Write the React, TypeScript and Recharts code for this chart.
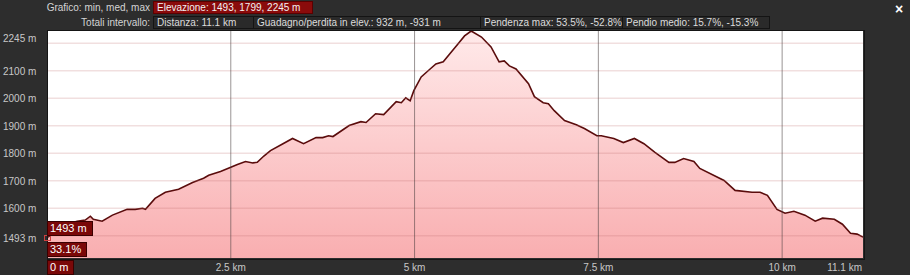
import React from "react";
import {
  AreaChart,
  Area,
  XAxis,
  YAxis,
  CartesianGrid,
  ReferenceLine,
} from "recharts";

const distKm = [
  0, 0.15, 0.3, 0.41, 0.52, 0.59, 0.63, 0.75, 0.89, 1.09, 1.2, 1.3, 1.34, 1.47, 1.61, 1.79, 1.98,
  2.13, 2.2, 2.36, 2.5, 2.59, 2.7, 2.8, 2.86, 2.95, 3.04, 3.21, 3.34, 3.49, 3.66, 3.75, 3.83, 3.89,
  4.11, 4.27, 4.34, 4.47, 4.58, 4.75, 4.82, 4.88, 4.94, 4.99, 5.09, 5.2, 5.29, 5.39, 5.48, 5.59,
  5.68, 5.77, 5.91, 6.04, 6.15, 6.22, 6.29, 6.38, 6.55, 6.63, 6.75, 6.82, 6.9, 7.04, 7.2, 7.31,
  7.48, 7.54, 7.71, 7.84, 7.99, 8.12, 8.27, 8.46, 8.54, 8.66, 8.8, 8.88, 9.21, 9.36, 9.59, 9.7,
  9.8, 9.93, 10.04, 10.16, 10.31, 10.45, 10.55, 10.71, 10.82, 10.93, 11.02, 11.1,
];

const elevM = [
  1493, 1518, 1545, 1553, 1557, 1571, 1560, 1553, 1575, 1596, 1596, 1600, 1596, 1636, 1658, 1669, 1694,
  1709, 1720, 1734, 1749, 1759, 1770, 1765, 1767, 1790, 1810, 1835, 1854, 1835, 1857, 1857, 1864, 1861,
  1901, 1915, 1912, 1944, 1941, 1988, 1984, 2002, 1991, 2028, 2078, 2104, 2125, 2133, 2162, 2198,
  2227, 2245, 2223, 2187, 2133, 2136, 2118, 2107, 2053, 2006, 1984, 1980, 1955, 1919, 1904, 1890,
  1864, 1864, 1854, 1839, 1854, 1835, 1803, 1767, 1767, 1781, 1770, 1745, 1701, 1665, 1658, 1658,
  1647, 1596, 1582, 1589, 1575, 1553, 1564, 1560, 1542, 1509, 1506, 1495,
];

const xTicks = [0, 2.5, 5, 7.5, 10, 11.1];
const yTicks = [1493, 1600, 1700, 1800, 1900, 2000, 2100, 2245];
const gridElev = [1500, 1600, 1700, 1800, 1900, 2000, 2100, 2200];
const gridKm = [2.5, 5, 7.5, 10];

const data = distKm.map((km, i) => ({ km, elev: elevM[i] }));

const FONT = "'Liberation Sans', Arial, sans-serif";

function XTick(props: any) {
  const { x, y, payload } = props;
  const v = payload.value;
  if (v === 0) return null;
  const last = v === xTicks[xTicks.length - 1];
  return (
    <text
      x={last ? x - 1 : x}
      y={y}
      dy={5}
      textAnchor={last ? "end" : "middle"}
      fill="#c8c8c8"
      fontSize={10}
      fontFamily={FONT}
    >
      {v + " km"}
    </text>
  );
}

function YTick(props: any) {
  const { y, payload } = props;
  const v = payload.value;
  return (
    <text
      x={3}
      y={v === 2245 ? y + 7 : y}
      dy={4}
      textAnchor="start"
      fill="#c8c8c8"
      fontSize={10}
      fontFamily={FONT}
    >
      {v + " m"}
    </text>
  );
}

const labelStyle: React.CSSProperties = {
  position: "absolute",
  fontFamily: FONT,
  fontSize: 10,
  color: "#d4d4d4",
  whiteSpace: "nowrap",
  lineHeight: "13px",
};

function Box({ left, top, width, text, red }: { left: number; top: number; width: number; text: string; red?: boolean }) {
  return (
    <div
      style={{
        ...labelStyle,
        left,
        top,
        width,
        height: 13,
        paddingLeft: 3,
        boxSizing: "border-box",
        background: red ? "#8a0b0b" : "#2a2a2a",
        border: red ? "1px solid #5a0000" : "1px solid #141414",
        color: red ? "#f2f2f2" : "#dcdcdc",
        lineHeight: "11px",
      }}
    >
      {text}
    </div>
  );
}

function Tag({ left, top, text }: { left: number; top: number; text: string }) {
  return (
    <div
      style={{
        ...labelStyle,
        left,
        top,
        height: 13,
        padding: "0 5px 0 2px",
        background: "#7a0808",
        border: "1px solid #3a0000",
        color: "#ffffff",
        lineHeight: "12px",
        fontSize: 11,
      }}
    >
      {text}
    </div>
  );
}

export default function App() {
  return (
    <div
      style={{
        position: "absolute",
        left: 0,
        top: 0,
        width: 910,
        height: 275,
        background: "#2d2d2d",
        overflow: "hidden",
      }}
    >
      <div style={{ ...labelStyle, right: 910 - 150, top: 1 }}>Grafico: min, med, max</div>
      <Box left={153} top={1} width={160} text="Elevazione: 1493, 1799, 2245 m" red />
      <div style={{ ...labelStyle, right: 910 - 150, top: 16 }}>Totali intervallo:</div>
      <Box left={153} top={16} width={101} text="Distanza: 11.1 km" />
      <Box left={253} top={16} width={228} text="Guadagno/perdita in elev.: 932 m, -931 m" />
      <Box left={480} top={16} width={143} text="Pendenza max: 53.5%, -52.8%" />
      <Box left={622} top={16} width={148} text="Pendio medio: 15.7%, -15.3%" />
      <div style={{ ...labelStyle, left: 895, top: 3, color: "#fff", fontSize: 14, fontWeight: "bold" }}>×</div>

      <div style={{ position: "absolute", left: 0, top: 0 }}>
        <AreaChart width={910} height={275} data={data} margin={{ top: 31, right: 47, bottom: 0, left: 0 }}>
          <defs>
            <linearGradient id="elevFill" x1="0" y1="0" x2="0" y2="1">
              <stop offset="0%" stopColor="#ffeaea" />
              <stop offset="100%" stopColor="#f9aeb0" />
            </linearGradient>
          </defs>
          <CartesianGrid fill="#ffffff" horizontal={false} vertical={false} />
          <XAxis
            dataKey="km"
            type="number"
            domain={[0, 11.1]}
            ticks={xTicks}
            height={17}
            axisLine={false}
            tickLine={false}
            tick={<XTick />}
            interval={0}
          />
          <YAxis
            type="number"
            domain={[1419, 2245]}
            ticks={yTicks}
            width={47}
            axisLine={false}
            tickLine={false}
            tick={<YTick />}
            interval={0}
          />
          <Area
            type="linear"
            dataKey="elev"
            stroke="#5a0c0c"
            strokeWidth={1.6}
            fill="url(#elevFill)"
            fillOpacity={1}
            isAnimationActive={false}
            dot={false}
            activeDot={false}
          />
          {gridElev.map((v) => (
            <ReferenceLine key={"h" + v} y={v} stroke="rgba(190,110,110,0.22)" strokeWidth={1.5} />
          ))}
          {gridKm.map((v) => (
            <ReferenceLine key={"v" + v} x={v} stroke="rgba(70,60,60,0.55)" strokeWidth={1} />
          ))}
        </AreaChart>
      </div>

      <div
        style={{
          position: "absolute",
          left: 47,
          top: 30,
          width: 816,
          height: 228,
          border: "1px solid #151515",
          pointerEvents: "none",
        }}
      />
      <div style={{ position: "absolute", left: 44, top: 235, width: 5, height: 4, border: "1px solid #d04040" }} />
      <Tag left={47} top={221} text="1493 m" />
      <Tag left={47} top={242} text="33.1%" />
      <Tag left={47} top={260} text="0 m" />
    </div>
  );
}
